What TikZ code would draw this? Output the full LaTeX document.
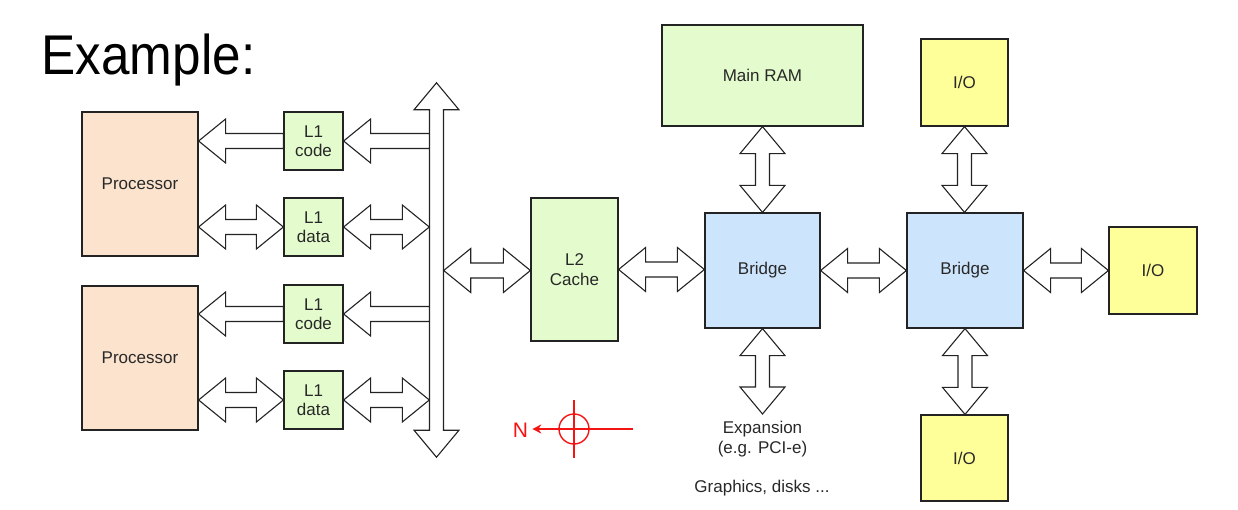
\documentclass[tikz,border=0pt]{standalone}
\usepackage{fontspec}
\usepackage{graphicx}
\setmainfont{Liberation Sans}
\usetikzlibrary{calc,arrows.meta}
\definecolor{procfill}{RGB}{251,227,206}
\definecolor{cachefill}{RGB}{228,252,205}
\definecolor{bridgefill}{RGB}{205,229,252}
\definecolor{iofill}{RGB}{255,255,153}
\definecolor{txt}{RGB}{40,40,40}
\definecolor{edge}{RGB}{35,35,35}
\definecolor{compass}{RGB}{245,20,20}
\tikzset{
  box/.style={draw=edge, line width=1.2pt, inner sep=0pt, align=center, text=txt,
    font=\fontsize{17}{19.5}\selectfont},
  blk/.style={draw=edge, fill=white, line width=1.1pt, line join=miter},
  lbl/.style={inner sep=0pt, align=center, text=txt, font=\fontsize{17}{20}\selectfont},
  cmp/.style={draw=compass, line width=1.4pt}
}
% horizontal double block arrow, #1 left tip, #2 right tip
\newcommand\hblockdbl[2]{%
  \draw[blk] let \p1=(#1), \p2=(#2) in
  (\x1,\y1) -- (\x1+27pt,\y1+22pt) -- (\x1+27pt,\y1+7.5pt) -- (\x2-27pt,\y1+7.5pt)
  -- (\x2-27pt,\y1+22pt) -- (\x2,\y1) -- (\x2-27pt,\y1-22pt) -- (\x2-27pt,\y1-7.5pt)
  -- (\x1+27pt,\y1-7.5pt) -- (\x1+27pt,\y1-22pt) -- cycle;}
% horizontal single block arrow, #1 left tip, #2 right tail
\newcommand\hblocksgl[2]{%
  \draw[blk] let \p1=(#1), \p2=(#2) in
  (\x1,\y1) -- (\x1+27pt,\y1+22pt) -- (\x1+27pt,\y1+7.5pt) -- (\x2,\y1+7.5pt)
  -- (\x2,\y1-7.5pt) -- (\x1+27pt,\y1-7.5pt) -- (\x1+27pt,\y1-22pt) -- cycle;}
% vertical double block arrow, #1 top tip, #2 bottom tip
\newcommand\vblockdbl[2]{%
  \draw[blk] let \p1=(#1), \p2=(#2) in
  (\x1,\y1) -- (\x1+22.5pt,\y1-27pt) -- (\x1+7pt,\y1-27pt) -- (\x1+7pt,\y2+27pt)
  -- (\x1+22.5pt,\y2+27pt) -- (\x1,\y2) -- (\x1-22.5pt,\y2+27pt) -- (\x1-7pt,\y2+27pt)
  -- (\x1-7pt,\y1-27pt) -- (\x1-22.5pt,\y1-27pt) -- cycle;}
\begin{document}
\begin{tikzpicture}[x=1pt,y=-1pt]
\useasboundingbox (0,0) rectangle (1238,510);

% title
\node[anchor=base west, inner sep=0pt, font=\fontsize{56}{60}\selectfont] (title) at (41.5,75) {\scalebox{0.915}[1]{Example:}};

% processors and L1
\node[box, fill=procfill, minimum width=116pt, minimum height=144pt] (p1) at (140,184) {Processor};
\node[box, fill=procfill, minimum width=116pt, minimum height=144pt] (p2) at (140,358) {Processor};
\node[box, fill=cachefill, minimum width=59pt, minimum height=58pt] (l1c1) at (313.5,141) {L1\\code};
\node[box, fill=cachefill, minimum width=59pt, minimum height=58pt] (l1d1) at (313.5,227) {L1\\data};
\node[box, fill=cachefill, minimum width=59pt, minimum height=58pt] (l1c2) at (313.5,314) {L1\\code};
\node[box, fill=cachefill, minimum width=59pt, minimum height=58pt] (l1d2) at (313.5,400) {L1\\data};

% bus (shaft extent)
\node[inner sep=0pt, minimum width=14pt, minimum height=374pt] (bus) at (436.5,270) {};

% L2, bridges, RAM, I/O
\node[box, fill=cachefill, minimum width=87pt, minimum height=143pt] (l2) at (574.5,269.5) {L2\\Cache};
\node[box, fill=bridgefill, minimum width=115pt, minimum height=115pt] (br1) at (762.5,270.5) {Bridge};
\node[box, fill=bridgefill, minimum width=116pt, minimum height=115pt] (br2) at (965,270.5) {Bridge};
\node[box, fill=cachefill, minimum width=201pt, minimum height=101pt] (ram) at (762.5,75.5) {Main RAM};
\node[box, fill=iofill, minimum width=87pt, minimum height=87pt] (iot) at (964.5,82.5) {I/O};
\node[box, fill=iofill, minimum width=88pt, minimum height=87pt] (ior) at (1153,270.5) {I/O};
\node[box, fill=iofill, minimum width=87pt, minimum height=86pt] (iob) at (964.5,458) {I/O};

% expansion texts
\coordinate (exptip) at (762.5,414);
\node[lbl, anchor=north] (exp) at (762.5,421) {Expansion\\(e.g. PCI-e)};
\node[lbl] (gfx) at (762,488) {Graphics, disks ...};

% bus arrow
\vblockdbl{bus.north}{bus.south}

% processor 1 side
\hblocksgl{p1.east |- l1c1}{l1c1.west}
\hblocksgl{l1c1.east}{bus.west |- l1c1}
\hblockdbl{p1.east |- l1d1}{l1d1.west}
\hblockdbl{l1d1.east}{bus.west |- l1d1}
% processor 2 side
\hblocksgl{p2.east |- l1c2}{l1c2.west}
\hblocksgl{l1c2.east}{bus.west |- l1c2}
\hblockdbl{p2.east |- l1d2}{l1d2.west}
\hblockdbl{l1d2.east}{bus.west |- l1d2}

% bus to L2 to bridges
\hblockdbl{bus.east |- br1}{l2.west}
\hblockdbl{l2.east}{br1.west}
\hblockdbl{br1.east}{br2.west}
\hblockdbl{br2.east}{ior.west}
\vblockdbl{ram.south}{br1.north}
\vblockdbl{iot.south}{br2.north}
\vblockdbl{br2.south}{iob.north}
\vblockdbl{br1.south}{exptip}

% compass
\coordinate (cc) at (574,429);
\node[inner sep=0pt, text=compass, font=\fontsize{21}{24}\selectfont] (N) at (520.5,430) {N};
\draw[cmp] (cc) circle (15pt);
\draw[cmp] ($(cc)+(0,-29)$) -- ($(cc)+(0,29)$);
\draw[cmp, -{Stealth[length=9pt,width=9pt]}] ($(cc)+(59,0)$) -- ($(N.east |- cc)+(4,0)$);
\end{tikzpicture}
\end{document}
